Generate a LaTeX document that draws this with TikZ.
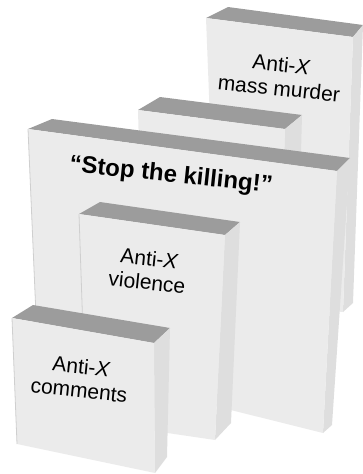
\documentclass[tikz,border=0pt]{standalone}
\usepackage{fontspec}
\setmainfont{Liberation Sans}
\definecolor{topc}{HTML}{9C9C9C}
\definecolor{frontc}{HTML}{EBEBEB}
\definecolor{sidec}{HTML}{DEDEDE}
\definecolor{edgec}{HTML}{CFCFCF}
\newcommand{\tiltlabel}[1]{\rotatebox{-6}{\begin{tabular}{@{}c@{}}#1\end{tabular}}}
\begin{document}
\begin{tikzpicture}[x=1pt,y=-1pt,
  lbl/.style={font=\fontsize{21}{24}\selectfont, text=black, inner sep=0pt},
  edgeline/.style={draw=edgec, line width=0.8pt}]
\useasboundingbox (0,0) rectangle (363,474);
% Box A (back)
\fill[topc] (206,18) -- (228,7) -- (363,25) -- (353,37) -- cycle;
\fill[sidec] (353,37) -- (363,25) -- (353,303) -- (343,312) -- cycle;
\fill[frontc] (206,18) -- (353,37) -- (343,312) -- (217,300) -- cycle;
% Box B
\fill[topc] (138,110) -- (160,97) -- (302,115) -- (285,129) -- cycle;
\fill[sidec] (285,129) -- (302,115) -- (300,190) -- (283,200) -- cycle;
\fill[frontc] (138,110) -- (285,129) -- (283,200) -- (140,185) -- cycle;
% Box C
\fill[topc] (28,129) -- (52,119) -- (350,158) -- (337,171) -- cycle;
\fill[sidec] (337,171) -- (350,158) -- (332,425) -- (323,433) -- cycle;
\fill[frontc] (28,129) -- (337,171) -- (323,433) -- (38,362) -- cycle;
\draw[edgeline] (28,129) -- (38,362);
% Box D
\fill[topc] (79,214) -- (100,202) -- (240,222) -- (225,235) -- cycle;
\fill[sidec] (225,235) -- (240,222) -- (231,423) -- (215,440) -- cycle;
\fill[frontc] (79,214) -- (225,235) -- (215,440) -- (86,421) -- cycle;
\draw[edgeline] (79,214) -- (86,421);
% Box E (front)
\fill[topc] (12,318) -- (33,305) -- (170,328) -- (154,343) -- cycle;
\fill[sidec] (154,343) -- (170,328) -- (167,457) -- (155,473) -- cycle;
\fill[frontc] (12,318) -- (154,343) -- (155,473) -- (17,444) -- cycle;
\draw[edgeline] (12,318) -- (17,444);
% Labels
\node[lbl] (tA) at (280,79) {\tiltlabel{Anti-\textit{X}\\mass murder}};
\node[lbl, font=\bfseries\fontsize{24}{28}\selectfont] (tC) at (171,176) {\rotatebox{-6}{“Stop the killing!”}};
\node[lbl] (tD) at (148,273) {\tiltlabel{Anti-\textit{X}\\violence}};
\node[lbl] (tE) at (80,381) {\tiltlabel{Anti-\textit{X}\\comments}};
\end{tikzpicture}
\end{document}
